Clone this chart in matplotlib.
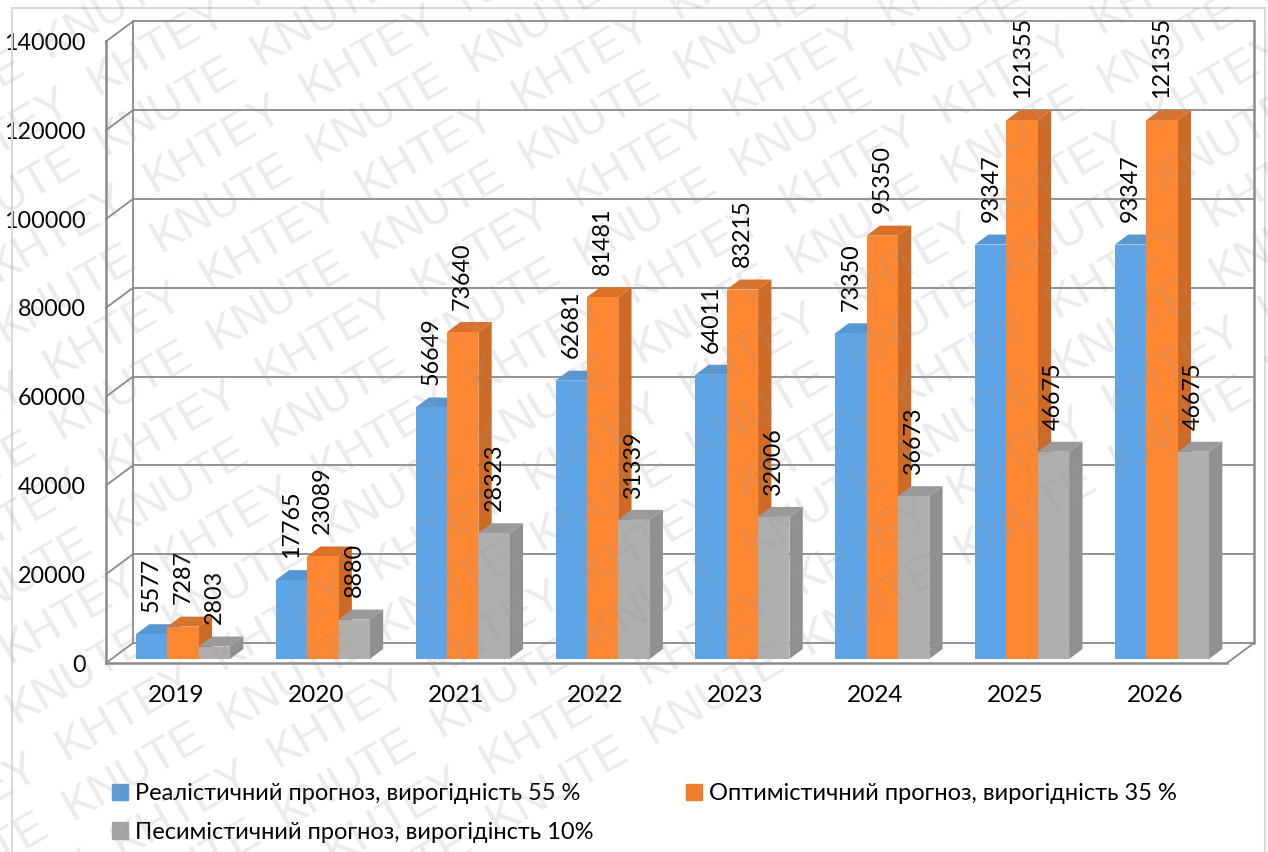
import math
import matplotlib
matplotlib.use("Agg")
import matplotlib.pyplot as plt
from matplotlib.patches import Patch, Polygon, Rectangle
from matplotlib.transforms import offset_copy, ScaledTranslation

plt.rcParams['font.family'] = ['Lato', 'Open Sans', 'DejaVu Sans']

years = ['2019', '2020', '2021', '2022', '2023', '2024', '2025', '2026']
realistic = [5577, 17765, 56649, 62681, 64011, 73350, 93347, 93347]
optimistic = [7287, 23089, 73640, 81481, 83215, 95350, 121355, 121355]
pessimistic = [2803, 8880, 28323, 31339, 32006, 36673, 46675, 46675]
series_names = ['Реалістичний прогноз, вирогідність 55 %',
                'Оптимістичний прогноз, вирогідність 35 %',
                'Песимістичний прогноз, вирогідінсть 10%']
y_ticks = [0, 20000, 40000, 60000, 80000, 100000, 120000, 140000]

W, H = 1268, 852
fig = plt.figure(figsize=(W / 100, H / 100), dpi=100, facecolor='white')
L, R, B, T = 106, 1227, 659, 659 - 621.6
ax = fig.add_axes([L / W, 1 - B / H, (R - L) / W, (B - T) / H])
step = 139.86
ax.set_xlim(-(183.0 - L) / step, 7 + (R - 1162.0) / step)
ax.set_ylim(0, 140000)
ax.patch.set_visible(False)
for s in ax.spines.values():
    s.set_visible(False)

GRID = '#8a8a8a'
x0, x1 = ax.get_xlim()
front = offset_copy(ax.transData, fig=fig, x=0, y=-4, units='dots')
back = offset_copy(ax.transData, fig=fig, x=27, y=16, units='dots')
kw = dict(color=GRID, lw=1.3, clip_on=False, zorder=1, solid_capstyle='projecting')
# walls and floor
for v in y_ticks:
    ax.plot([x0, x1], [v, v], transform=back, **kw)
ax.plot([x0, x0], [0, 140000], transform=back, **kw)
ax.plot([x1, x1], [0, 140000], transform=back, **{**kw, 'lw': 1.8})
ax.plot([x0, x0], [0, 140000], transform=front, **{**kw, 'lw': 1.8})
ax.plot([x0, x1], [0, 0], transform=front, **{**kw, 'lw': 1.8})
per_x = 27 / step
per_u = 140000 / (B - T)
for v in y_ticks:
    ax.plot([x0, x0 + per_x], [v - 4 * per_u, v + 16 * per_u], **kw)
ax.plot([x1, x1 + per_x], [-4 * per_u, 16 * per_u], **kw)

# bars
bar_w = 31.35 / step
dx = 13.3 / step
dy = 10 * per_u
styles = [('#5EA5E8', '#5597D2', '#4F8CC4'),
          ('#FE8732', '#DB7028', '#CC6A26'),
          ('#AFAFAF', '#9A9A9A', '#909090')]
all_series = [realistic, optimistic, pessimistic]
for i in range(len(years)):
    for k, vals in enumerate(all_series):
        xc = i + (k - 1) * bar_w
        v = vals[i]
        lft, rgt = xc - bar_w / 2, xc + bar_w / 2
        z = 3 + i + k * 0.1
        fc, tc, sc = styles[k]
        ax.add_patch(Polygon([(rgt, 0), (rgt + dx, dy), (rgt + dx, v + dy), (rgt, v)],
                             closed=True, fc=sc, ec='none', zorder=z, clip_on=False))
        ax.add_patch(Polygon([(lft, v), (lft + dx, v + dy), (rgt + dx, v + dy), (rgt, v)],
                             closed=True, fc=tc, ec='none', zorder=z, clip_on=False))
        ax.bar(xc, v, width=bar_w, color=fc, zorder=z + 0.01, clip_on=False)

FS = 16.8
for i in range(len(years)):
    for k, vals in enumerate(all_series):
        xc = i + (k - 1) * bar_w
        ax.annotate(str(vals[i]), xy=(xc, vals[i]), xytext=(0, 16),
                    textcoords='offset points', rotation=90, ha='center', va='bottom',
                    fontsize=FS, color='black', zorder=30, annotation_clip=False)

# axes ticks
ax.set_xticks([i - 7 / step for i in range(len(years))], years, fontsize=17.6)
ax.set_yticks(y_ticks, [str(v) for v in y_ticks], fontsize=FS)
ax.tick_params(axis='x', length=0, pad=19)
ax.tick_params(axis='y', length=0, pad=14.6)
shift = ScaledTranslation(0, -4 / 100, fig.dpi_scale_trans)
for lab in ax.get_yticklabels():
    lab.set_transform(lab.get_transform() + shift)

# legend
o = [0, 2, 1]
handles = [Patch(color=['#5B9BD5', '#ED7D31', '#A5A5A5'][j]) for j in o]
leg = ax.legend(handles, [series_names[j] for j in o], ncol=2, frameon=False,
                loc='upper left', bbox_to_anchor=(112 / W, 1 - 783 / H),
                bbox_transform=fig.transFigure, fontsize=17.0,
                borderpad=0, borderaxespad=0,
                handlelength=0.675, handleheight=0.675, handletextpad=0.29,
                columnspacing=3.93, labelspacing=0.75)

# page frame
fig.add_artist(Rectangle((12 / W, -0.02), (1265 - 12) / W, 1 - 8 / H + 0.02,
                         transform=fig.transFigure, fill=False, ec='#d9d9d9', lw=1.5))

# watermark
ang = 30
c, s_ = math.cos(math.radians(ang)), math.sin(math.radians(ang))
for word, ax0, ay0 in (('KHTEY', 303, 93), ('KNUTE', 310, 153)):
    for a in range(-8, 9):
        for b in range(-6, 7):
            px = ax0 + a * 180 * c + b * 112 * s_
            py = ay0 - a * 180 * s_ + b * 112 * c
            if -120 < px < W + 40 and -40 < py < H + 120:
                fig.text(px / W, 1 - py / H, word, rotation=ang, rotation_mode='anchor',
                         ha='left', va='center', fontsize=33, color='#9a9a9a', alpha=0.2,
                         family='Liberation Sans', zorder=50)

fig.savefig('out.png', dpi=100, facecolor='white')
